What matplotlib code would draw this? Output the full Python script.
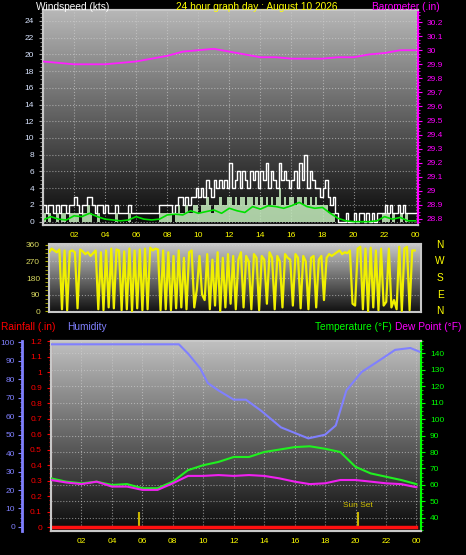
import matplotlib
matplotlib.use("Agg")
import matplotlib.pyplot as plt
import numpy as np
from matplotlib.colors import LinearSegmentedColormap
from matplotlib.ticker import MultipleLocator

plt.rcParams['font.family'] = ['Liberation Sans', 'DejaVu Sans']

# ---- dane ----
hour_labels = ["02", "04", "06", "08", "10", "12", "14", "16", "18", "20", "22", "00"]
hour_ticks = [2, 4, 6, 8, 10, 12, 14, 16, 18, 20, 22, 24]

# porywy (co 10 min, kts)
gust = [2, 1, 2, 2, 1, 2, 1, 2, 2, 1, 2, 2,
        3, 2, 1, 2, 2, 3, 3, 2, 1, 2, 2, 1,
        2, 1, 1, 1, 2, 1, 1, 1, 1, 2, 1, 1,
        1, 1, 1, 1, 1, 1, 1, 1, 1, 2, 2, 2,
        2, 2, 1, 2, 3, 3, 2, 3, 2, 3, 3, 4,
        3, 4, 3, 5, 4, 3, 5, 4, 5, 4, 5, 4,
        7, 4, 5, 6, 4, 6, 5, 4, 6, 5, 6, 4,
        6, 5, 7, 4, 6, 5, 4, 7, 5, 6, 5, 4,
        5, 6, 4, 7, 5, 8, 4, 6, 5, 4, 4, 3,
        4, 5, 3, 2, 3, 1, 0, 0, 0, 1, 0, 0,
        1, 0, 1, 1, 0, 1, 0, 1, 0, 1, 1, 1,
        2, 1, 2, 1, 1, 2, 1, 2, 1, 1, 1, 1, 1]
# predkosc chwilowa (co 10 min, kts)
speed = [1, 0, 1, 0, 0, 1, 0, 1, 1, 0, 1, 1,
         1, 1, 0, 1, 1, 2, 1, 0, 0, 1, 0, 0,
         0, 0, 0, 0, 1, 0, 0, 0, 0, 1, 0, 0,
         0, 0, 0, 0, 0, 0, 0, 0, 0, 1, 1, 1,
         1, 1, 0, 1, 2, 1, 1, 2, 1, 1, 2, 2,
         1, 2, 2, 3, 2, 1, 2, 2, 3, 2, 2, 3,
         3, 2, 3, 2, 3, 3, 2, 3, 3, 2, 3, 2,
         3, 2, 3, 2, 3, 2, 3, 4, 2, 3, 2, 3,
         3, 2, 3, 3, 2, 3, 2, 3, 2, 3, 2, 2,
         2, 2, 1, 1, 1, 0, 0, 0, 0, 0, 0, 0,
         0, 0, 0, 0, 0, 0, 0, 0, 0, 0, 0, 1,
         1, 1, 0, 1, 0, 0, 1, 0, 1, 0, 0, 0, 0]
# srednia predkosc (co 30 min, kts)
avg_speed = [0.2, 0.6, 0.3, 0.2, 0.7, 0.6, 1.0, 0.6, 0.3, 0.2, 0.1, 0.2,
             0.6, 0.3, 0.2, 0.3, 0.8, 0.9, 0.8, 1.3, 1.0, 1.2, 1.4, 1.0,
             1.6, 1.3, 1.1, 1.8, 1.5, 1.9, 1.8, 1.6, 1.9, 2.3, 1.8, 1.6,
             1.7, 1.0, 0.4, 0.1, 0.0, 0.0, 0.0, 0.1, 0.6, 0.3, 0.5, 0.1, 0.1]
# barometr (co 1 h, in)
baro = [29.92, 29.91, 29.90, 29.90, 29.90, 29.91, 29.92, 29.94, 29.96, 29.99,
        30.00, 30.01, 29.99, 29.97, 29.95, 29.95, 29.94, 29.94, 29.94, 29.95,
        29.95, 29.97, 29.98, 30.00, 30.00]
# kierunek wiatru (co 10 min, stopnie)
direction = [40, 330, 335, 320, 340, 330, 320, 335, 10, 330, 5, 325,
             330, 320, 15, 335, 325, 310, 320, 300, 315, 330, 10, 320,
             5, 330, 20, 340, 15, 335, 330, 5, 325, 10, 340, 0,
             330, 15, 335, 5, 340, 10, 345, 330, 340, 335, 5, 330,
             10, 320, 5, 300, 15, 330, 20, 290, 10, 320, 330, 20,
             120, 300, 90, 60, 310, 10, 280, 30, 320, 0, 290, 20,
             310, 40, 300, 10, 280, 320, 20, 300, 270, 10, 310, 290,
             5, 300, 280, 40, 320, 290, 10, 300, 270, 20, 310, 290,
             280, 30, 310, 290, 15, 300, 270, 10, 290, 300, 20, 280,
             300, 60, 290, 310, 300, 310, 320, 330, 310, 320, 315, 330,
             40, 30, 340, 350, 10, 340, 0, 345, 20, 330, 5, 340,
             30, 50, 340, 20, 60, 10, 350, 0, 340, 350, 5, 330, 330]
# wilgotnosc (%)
hum_hours = [0, 8.4, 9.0, 9.8, 10.3, 11.0, 12.0, 12.8, 13.8, 15.1, 16.0, 16.9,
             18.0, 18.7, 19.4, 20.4, 21.7, 22.6, 23.6, 24.2]
humidity = [99, 99, 94, 86, 78, 74, 69, 69, 63, 54, 51, 48,
            50, 55, 74, 84, 91, 96, 97, 95]
# temperatura i punkt rosy (co 1 h, F)
temp = [64, 62, 61, 62, 60, 60.5, 58, 58, 62, 69, 72, 74, 77, 77, 80, 81.5,
        83, 83.5, 82, 80, 71, 67, 65, 63, 60.5]
dew = [63, 61.5, 60.5, 62, 59, 59, 57, 57, 61, 65.5, 65.5, 66, 65.5, 66, 65.5,
       64, 62, 60.5, 61, 63, 63, 62, 61, 60.5, 58.6]
rain = [0.0] * 25
sun_hours = [5.8, 20.15]

t10 = np.arange(len(gust)) / 6.0
t30 = np.arange(len(avg_speed)) / 2.0
t60 = np.arange(len(baro))


def gradient(ax, top, bottom):
    g = np.linspace(0, 1, 256).reshape(-1, 1)
    cmap = LinearSegmentedColormap.from_list('g', [top, bottom])
    ax.imshow(g, cmap=cmap, extent=[0, 1, 0, 1], transform=ax.transAxes,
              aspect='auto', zorder=0)


def frame(ax, color='#c8c8c8'):
    for s in ax.spines.values():
        s.set_color(color)
        s.set_linewidth(1.5)


W, H = 466, 555
fig = plt.figure(figsize=(W / 100, H / 100), dpi=100, facecolor='black')


def box(x0, y0, x1, y1):
    return [x0 / W, 1 - y1 / H, (x1 - x0) / W, (y1 - y0) / H]


fs = 6
tfs = 7.3
grid_kw = dict(color='#d0d0d0', linestyle=':', linewidth=0.8, alpha=0.6)

# ---- wiatr + barometr ----
ax1 = fig.add_axes(box(43, 10, 418, 225))
gradient(ax1, '#b8b8b8', '#080808')
ax1.fill_between(t10, speed, step='post', color='#c8f0c0', alpha=0.85, zorder=2, lw=0)
ax1.step(t10, gust, where='post', color='white', lw=1.0, zorder=3)
ax1.plot(t30, avg_speed, color='#00e000', lw=1.2, zorder=4)
ax1.set_xlim(0, 24.15)
ax1.set_ylim(-0.4, 25.3)
ax1.set_yticks(range(0, 25, 2))
ax1.yaxis.set_minor_locator(MultipleLocator(0.5))
ax1.set_xticks(hour_ticks)
ax1.set_xticklabels(hour_labels)
ax1.tick_params(axis='x', colors='#ffff00', labelsize=fs, length=0, pad=5)
ax1.tick_params(axis='y', which='both', colors='#a0a0a0', labelcolor='#d8e4ff',
                labelsize=fs, length=3)
ax1.tick_params(axis='y', which='minor', length=2)
ax1.grid(True, **grid_kw)
frame(ax1)

ax1b = ax1.twinx()
ax1b.plot(t60, baro, color='#ff20ff', lw=1.3, zorder=5)
ax1b.set_ylim(28.757, 30.286)
ax1b.set_yticks(np.round(np.arange(28.8, 30.25, 0.1), 1))
ax1b.set_yticklabels(['28.8', '28.9', '29', '29.1', '29.2', '29.3', '29.4', '29.5',
                      '29.6', '29.7', '29.8', '29.9', '30', '30.1', '30.2'])
ax1b.yaxis.set_minor_locator(MultipleLocator(0.025))
ax1b.tick_params(axis='y', which='both', colors='#ff00ff', labelsize=fs, length=3)
ax1b.tick_params(axis='y', which='minor', length=1.5)
frame(ax1b)
ax1b.spines['right'].set_color('#ff00ff')

fig.text(36 / W, 1 - 7 / H, "Windspeed (kts)", color='white', fontsize=tfs,
         ha='left', va='center')
fig.text(257 / W, 1 - 7 / H, "24 hour graph day : August 10 2026", color='#ffff00',
         fontsize=tfs, ha='center', va='center')
fig.text(440 / W, 1 - 7 / H, "Barometer (.in)", color='#ff00ff', fontsize=tfs,
         ha='right', va='center')

# ---- kierunek ----
ax2 = fig.add_axes(box(49, 244, 421, 312))
gradient(ax2, '#c8c8c8', '#101010')
ax2.plot(t10, direction, color='#f0f000', lw=1.6, zorder=3)
ax2.set_xlim(0.5, 24.4)
ax2.set_ylim(-5, 365)
ax2.set_yticks([0, 90, 180, 270, 360])
ax2.yaxis.set_minor_locator(MultipleLocator(22.5))
ax2.set_xticks(hour_ticks)
ax2.tick_params(axis='x', length=0, labelbottom=False)
ax2.tick_params(axis='y', which='both', colors='#b0b000', labelcolor='#d8d860',
                labelsize=fs, length=3)
ax2.grid(True, axis='y', **grid_kw)
frame(ax2)
for lbl, yy in zip(["N", "W", "S", "E", "N"], [245, 261, 278, 295, 311]):
    fig.text(440 / W, 1 - yy / H, lbl, color='#ffff00', fontsize=tfs,
             ha='center', va='center')

# ---- deszcz, wilgotnosc, temperatura ----
ax3 = fig.add_axes(box(51, 341, 421, 531))
gradient(ax3, '#c0c0c0', '#0a0a0a')
ax3.plot(t60, rain, color='#ff1010', lw=2.5, zorder=6)
ax3.vlines(sun_hours, 0, 0.1, color='#c8b400', lw=1.5, zorder=5)
ax3.text(sun_hours[1], 0.115, "Sun Set", color='#d0c000', fontsize=fs,
         ha='center', va='bottom', zorder=6)
ax3.set_xlim(0, 24.3)
ax3.set_ylim(-0.025, 1.2)
ax3.set_yticks(np.round(np.arange(0, 1.25, 0.1), 1))
ax3.set_yticklabels(['0', '0.1', '0.2', '0.3', '0.4', '0.5', '0.6', '0.7', '0.8',
                     '0.9', '1', '1.1', '1.2'])
ax3.yaxis.set_minor_locator(MultipleLocator(0.025))
ax3.set_xticks(hour_ticks)
ax3.set_xticklabels(hour_labels)
ax3.tick_params(axis='x', colors='#ffff00', labelsize=fs, length=0, pad=5)
ax3.tick_params(axis='y', which='both', colors='#ff0000', labelsize=fs, length=3)
ax3.tick_params(axis='y', which='minor', length=1.5)
ax3.grid(True, axis='x', **grid_kw)
frame(ax3)
ax3.spines['left'].set_color('#ff4040')

ax3t = ax3.twinx()
ax3t.plot(t60, temp, color='#20f020', lw=1.5, zorder=4)
ax3t.plot(t60, dew, color='#f020f0', lw=1.5, zorder=4)
ax3t.set_ylim(32, 147.5)
ax3t.set_yticks(range(40, 141, 10))
ax3t.yaxis.set_minor_locator(MultipleLocator(2.5))
ax3t.tick_params(axis='y', which='both', colors='#00ff00', labelsize=fs, length=3)
ax3t.tick_params(axis='y', which='minor', length=1.5)
ax3t.grid(True, axis='y', **grid_kw)
frame(ax3t)
ax3t.spines['right'].set_color('#00ff00')

ax3h = ax3.twinx()
ax3h.plot(hum_hours, humidity, color='#8080ff', lw=1.5, zorder=4)
ax3h.set_ylim(-2.2, 100.8)
ax3h.set_yticks(range(0, 101, 10))
ax3h.yaxis.set_minor_locator(MultipleLocator(2.5))
ax3h.yaxis.set_ticks_position('left')
ax3h.spines['left'].set_position(('outward', 21))
ax3h.spines['left'].set_visible(True)
ax3h.spines['left'].set_color('#8080ff')
ax3h.spines['left'].set_linewidth(2)
ax3h.spines['right'].set_visible(False)
ax3h.spines['top'].set_visible(False)
ax3h.spines['bottom'].set_visible(False)
ax3h.tick_params(axis='y', which='both', colors='#8080ff', labelsize=fs, length=3,
                 pad=2)
ax3h.tick_params(axis='y', which='minor', length=1.5)

fig.text(1 / W, 1 - 327 / H, "Rainfall (.in)", color='#ff0000', fontsize=tfs,
         ha='left', va='center')
fig.text(67 / W, 1 - 327 / H, "Humidity", color='#8080ff', fontsize=tfs,
         ha='left', va='center')
fig.text(392 / W, 1 - 327 / H, "Temperature (°F)", color='#00ff00', fontsize=tfs,
         ha='right', va='center')
fig.text(395 / W, 1 - 327 / H, "Dew Point (°F)", color='#ff00ff', fontsize=tfs,
         ha='left', va='center')

fig.savefig("out.png", dpi=100, facecolor='black')
